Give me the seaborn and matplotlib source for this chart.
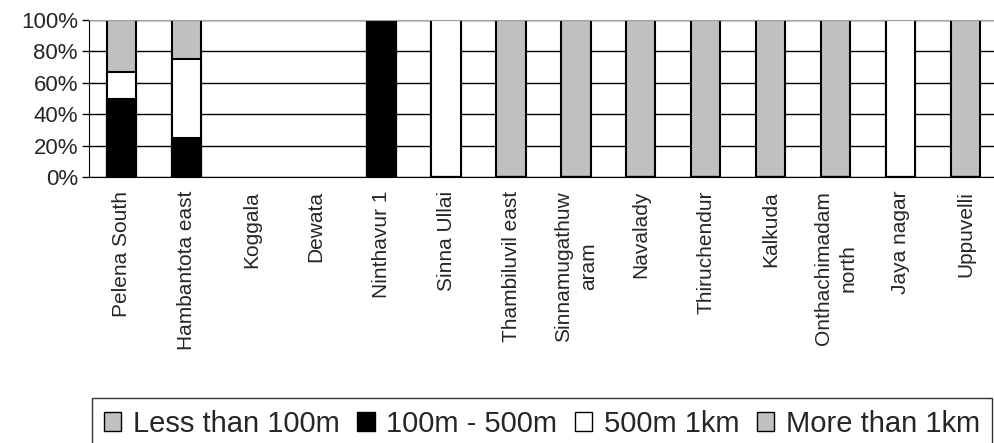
import matplotlib
matplotlib.use("Agg")
import matplotlib.pyplot as plt
import seaborn as sns
import numpy as np
import pandas as pd
from matplotlib.patches import Patch

categories = ["Pelena South", "Hambantota east", "Koggala", "Dewata", "Ninthavur 1",
              "Sinna Ullai", "Thambiluvil east", "Sinnamugathuw\naram", "Navalady",
              "Thiruchendur", "Kalkuda", "Onthachimadam\nnorth", "Jaya nagar", "Uppuvelli"]
less_100m = [0, 0, 0, 0, 0, 0, 0, 0, 0, 0, 0, 0, 0, 0]
m100_500 = [50, 25, 0, 0, 100, 0, 0, 0, 0, 0, 0, 0, 0, 0]
m500_1km = [16.7, 50, 0, 0, 0, 100, 0, 0, 0, 0, 0, 0, 100, 0]
more_1km = [33.3, 25, 0, 0, 0, 0, 100, 100, 100, 100, 100, 100, 0, 100]
series_names = ["Less than 100m", "100m - 500m", "500m 1km", "More than 1km"]
colors = ["#c0c0c0", "#000000", "#ffffff", "#c0c0c0"]

sns.set_style("white")
plt.rcParams['font.family'] = ['Liberation Sans', 'DejaVu Sans']

vals = np.array([less_100m, m100_500, m500_1km, more_1km], dtype=float)
cum = np.cumsum(vals, axis=0)

fig = plt.figure(figsize=(9.94, 4.43), dpi=100)
ax = fig.add_axes([89/994, 1-177/443, 1-89/994 + 0.004, (177-20)/443])

order_x = list(range(len(categories)))
for k in range(3, -1, -1):
    h = cum[k].copy()
    h[cum[3] == 0] = np.nan
    df = pd.DataFrame({"x": order_x, "y": h})
    sns.barplot(data=df, x="x", y="y", color=colors[k], width=0.45,
                edgecolor="black", linewidth=1.5, ax=ax, saturation=1, native_scale=True)

ax.set_xlim(-0.5, len(categories) - 0.5)
ax.set_ylim(0, 100)
ax.set_yticks([0, 20, 40, 60, 80, 100])
ax.set_yticklabels([f"{v}%" for v in [0, 20, 40, 60, 80, 100]], fontsize=16)
ax.yaxis.grid(True, color="black", linewidth=1)
ax.set_axisbelow(True)
ax.set_xticks(order_x)
ax.set_xticklabels(categories, rotation=90, fontsize=15, va="top", ha="center", linespacing=1.4)
ax.set_xticks(np.arange(len(categories) + 1) - 0.5, minor=True)
ax.tick_params(axis="x", which="major", length=0, pad=10)
ax.tick_params(axis="x", which="minor", length=5, width=1, color="black", direction="out")
ax.tick_params(axis="y", length=5, width=1, color="black", direction="out", left=True, pad=3)
ax.set_xlabel("")
ax.set_ylabel("")
ax.spines["top"].set_color("#a0a0a0")
ax.spines["right"].set_visible(False)
ax.spines["left"].set_color("black")
ax.spines["bottom"].set_color("black")

handles = [Patch(facecolor=c, edgecolor="black", linewidth=1) for c in colors]
leg = fig.legend(handles, series_names, loc="upper left", bbox_to_anchor=(92/994, 1-398/443),
                 ncol=4, fontsize=21, frameon=True, fancybox=False, handlelength=0.6,
                 handleheight=0.6, handletextpad=0.4, columnspacing=0.6, borderpad=0.4,
                 borderaxespad=0)
leg.get_frame().set_edgecolor("black")
leg.get_frame().set_linewidth(1)

fig.savefig("out.png", dpi=100)
